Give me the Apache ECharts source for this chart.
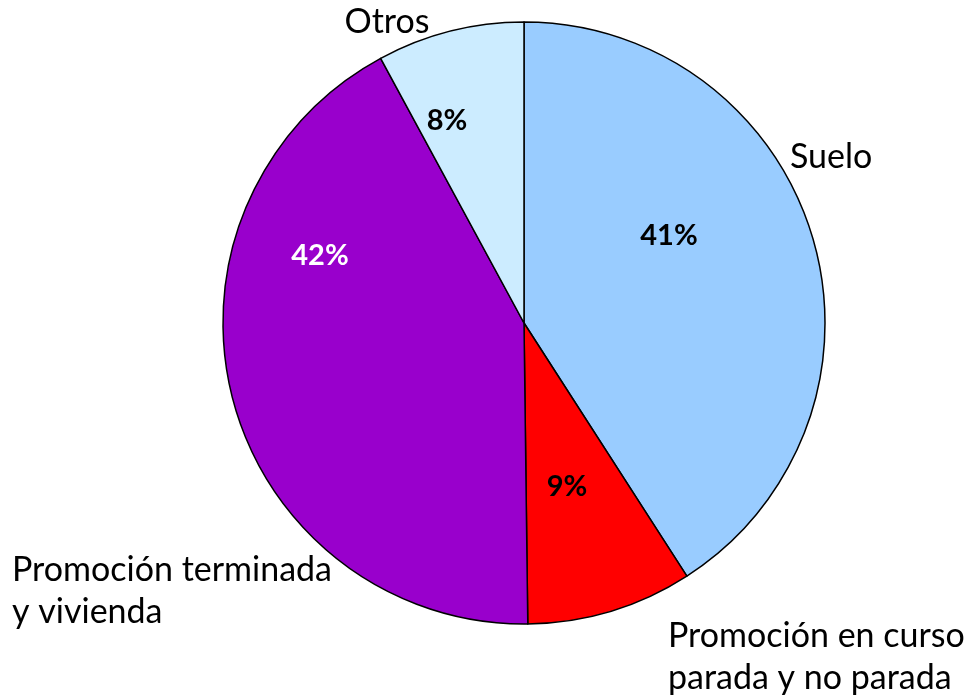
<!DOCTYPE html>
<html>
<head>
<meta charset="utf-8">
<script src="https://cdn.jsdelivr.net/npm/echarts@6/dist/echarts.min.js"></script>
<style>
  html, body { margin: 0; padding: 0; background: #fff; }
  #main { width: 975px; height: 695px; }
</style>
</head>
<body>
<div id="main"></div>
<script>
// datos del gráfico
var categorias = ['Suelo', 'Promoción en curso\nparada y no parada', 'Promoción terminada\ny vivienda', 'Otros'];
var valores = [40.9, 8.9, 42.3, 7.9];
var etiquetas = ['41%', '9%', '42%', '8%'];
var colores = ['#99CCFF', '#FF0000', '#9900CC', '#CCECFF'];
var coloresTexto = ['#000', '#000', '#fff', '#000'];

var myChart = echarts.init(document.getElementById('main'));

var datos = categorias.map(function (c, i) {
    return {
        name: c,
        value: valores[i],
        itemStyle: { color: colores[i] },
        label: { color: coloresTexto[i] }
    };
});

// posiciones de las etiquetas
var posInterior = [[669, 236], [567, 487], [320, 256], [447, 121]];
var posExterior = [
    { x: 790, y: 157, align: 'left' },
    { x: 668, y: 657, align: 'left' },
    { x: 12, y: 591, align: 'left' },
    { x: 387, y: 22, align: 'center' }
];

var option = {
    animation: false,
    series: [{
        type: 'pie',
        center: [524, 323],
        radius: 301,
        startAngle: 90,
        clockwise: true,
        data: datos,
        itemStyle: { borderColor: '#000', borderWidth: 1.5 },
        label: {
            position: 'inside',
            fontFamily: 'Lato',
            fontWeight: 'bold',
            fontSize: 29,
            formatter: function (p) { return etiquetas[p.dataIndex]; }
        },
        labelLine: { show: false },
        labelLayout: function (p) {
            var q = posInterior[p.dataIndex];
            return { x: q[0], y: q[1], align: 'center', verticalAlign: 'middle' };
        }
    }, {
        type: 'pie',
        center: [524, 323],
        radius: 301,
        startAngle: 90,
        clockwise: true,
        silent: true,
        data: categorias.map(function (c, i) { return { name: c, value: valores[i] }; }),
        itemStyle: { color: 'rgba(0,0,0,0)' },
        label: {
            position: 'outside',
            fontFamily: 'Lato',
            fontSize: 34,
            color: '#000',
            lineHeight: 42,
            overflow: 'none',
            formatter: '{b}'
        },
        labelLine: { show: false },
        labelLayout: function (p) {
            var q = posExterior[p.dataIndex];
            return { x: q.x, y: q.y, align: q.align, verticalAlign: 'middle', width: 400 };
        }
    }]
};

myChart.setOption(option);
</script>
</body>
</html>
